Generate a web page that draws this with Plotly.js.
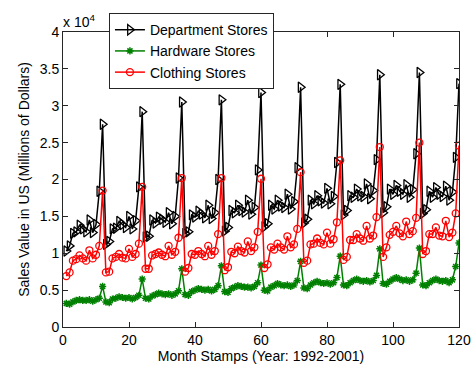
<!DOCTYPE html>
<html>
<head>
<meta charset="utf-8">
<script src="https://cdn.plot.ly/plotly-3.0.1.min.js"></script>
<style>html,body{margin:0;padding:0;background:#fff;}#chart{width:474px;height:367px;}</style>
</head>
<body>
<div id="chart"></div>
<script>
// Monthly sales, millions of dollars, Jan 1992 .. Dec 2001
const deptStores = [
  10300, 11000, 12700, 12900, 13800, 13300, 12900, 14500, 12800, 13900, 18400, 27500,
  11200, 11600, 13300, 13400, 14300, 13900, 13500, 15000, 13300, 14400, 19000, 29200,
  12200, 12300, 14500, 14100, 14900, 14600, 14200, 15500, 14000, 15000, 20200, 30500,
  12700, 12900, 15200, 14900, 15700, 15300, 14800, 16500, 14700, 15500, 20000, 30800,
  13000, 13500, 15800, 15500, 16500, 15800, 15600, 17200, 15300, 16200, 21300, 31800,
  13600, 14000, 16500, 16000, 17200, 16400, 16200, 18000, 16000, 17000, 21600, 32500,
  14100, 14600, 17200, 16700, 17800, 17100, 16800, 18800, 16700, 17700, 22300, 32900,
  15200, 15800, 17800, 17600, 18700, 17800, 17700, 19400, 17400, 18500, 22700, 34200,
  15500, 16300, 18700, 18000, 19200, 18400, 18000, 19300, 17600, 18600, 23500, 34500,
  15400, 15900, 18400, 17600, 18900, 18000, 17700, 19100, 17200, 18300, 23000, 33000
];
const hardwareStores = [
  3200, 3100, 3400, 3600, 3700, 3600, 3600, 3700, 3500, 3700, 3900, 5500,
  3400, 3300, 3800, 3900, 4100, 4000, 3900, 4000, 3800, 4000, 4300, 6500,
  3900, 3800, 4200, 4400, 4600, 4500, 4400, 4500, 4300, 4500, 4900, 7900,
  4400, 4300, 4800, 5000, 5200, 5100, 5000, 5100, 4900, 5100, 5600, 8300,
  4800, 4700, 5200, 5400, 5600, 5500, 5400, 5400, 5300, 5500, 6000, 8400,
  5000, 4900, 5400, 5600, 5900, 5700, 5600, 5700, 5500, 5700, 6300, 8900,
  5300, 5200, 5700, 6000, 6200, 6000, 5900, 6000, 5800, 6000, 6700, 9600,
  5700, 5600, 6000, 6300, 6500, 6300, 6200, 6300, 6100, 6300, 7000, 10600,
  5900, 5800, 6200, 6500, 6700, 6500, 6300, 6400, 6200, 6400, 7300, 10700,
  5700, 5600, 6000, 6300, 6500, 6300, 6200, 6300, 6000, 6400, 8200, 11400
];
const clothingStores = [
  6900, 7400, 9000, 9200, 9700, 9300, 9000, 10400, 9300, 9800, 11000, 18500,
  7400, 7500, 9300, 9500, 9900, 9400, 9300, 10600, 9500, 9900, 11300, 19000,
  7900, 7900, 9700, 9900, 10100, 9800, 9600, 11000, 9800, 10200, 12100, 20200,
  7500, 8000, 9900, 9800, 10300, 9900, 9600, 11000, 9800, 10300, 12600, 20200,
  7700, 8100, 10200, 10000, 10900, 10300, 10100, 11600, 10300, 10800, 12900, 20100,
  8000, 8500, 10800, 10500, 11300, 10800, 10500, 12300, 10800, 11200, 13300, 21000,
  8700, 9000, 11200, 11300, 12000, 11400, 11200, 12800, 11300, 11900, 14200, 22600,
  9100, 9500, 11800, 11800, 12600, 12000, 11700, 13700, 12000, 12400, 14900, 24400,
  9500, 10800, 12500, 12900, 13700, 12700, 12300, 14300, 12600, 13000, 14800, 25000,
  9900, 10300, 12600, 12600, 13500, 12400, 12300, 14400, 12200, 12800, 15400, 24600
];
const monthStamps = deptStores.map((_, i) => i + 1);
const seriesNames = ['Department Stores', 'Hardware Stores', 'Clothing Stores'];
const yTickVals = [0, 5000, 10000, 15000, 20000, 25000, 30000, 35000, 40000];
const yTickText = ['0', '0.5', '1', '1.5', '2', '2.5', '3', '3.5', '4'];
const xTickVals = [0, 20, 40, 60, 80, 100, 120];

const font = {family: 'Liberation Sans, Arial, sans-serif', size: 14, color: '#000'};

const traces = [
  {x: monthStamps, y: deptStores, name: seriesNames[0], type: 'scatter', mode: 'lines+markers',
   line: {color: '#000000', width: 1.5},
   marker: {symbol: 'triangle-right-open', size: 9, color: '#000000', line: {width: 1.3, color: '#000000'}}},
  {x: monthStamps, y: hardwareStores, name: seriesNames[1], type: 'scatter', mode: 'lines+markers',
   line: {color: '#008000', width: 1.5},
   marker: {symbol: 'asterisk-open', size: 6, color: '#008000', line: {width: 1.5, color: '#008000'}}},
  {x: monthStamps, y: clothingStores, name: seriesNames[2], type: 'scatter', mode: 'lines+markers',
   line: {color: '#ff0000', width: 1.5},
   marker: {symbol: 'circle-open', size: 7, color: '#ff0000', line: {width: 1.3, color: '#ff0000'}}}
];

const axisCommon = {
  showgrid: false, zeroline: false, showline: true, linecolor: '#262626', linewidth: 1,
  mirror: 'ticks', ticks: 'inside', ticklen: 5, tickcolor: '#262626', tickfont: font
};

const layout = {
  width: 474, height: 367,
  margin: {l: 63, r: 15, t: 32, b: 40},
  paper_bgcolor: '#ffffff', plot_bgcolor: '#ffffff',
  font: font,
  showlegend: true,
  legend: {x: 0.116, y: 1.064, xanchor: 'left', yanchor: 'top', bgcolor: '#ffffff',
           bordercolor: '#262626', borderwidth: 1, font: font, tracegroupgap: 0},
  xaxis: Object.assign({}, axisCommon, {range: [0, 120], tickvals: xTickVals,
    title: {text: 'Month Stamps (Year: 1992-2001)', font: font, standoff: 2}}),
  yaxis: Object.assign({}, axisCommon, {range: [0, 40000], tickvals: yTickVals, ticktext: yTickText,
    title: {text: 'Sales Value in US (Millions of Dollars)', font: font, standoff: 6}}),
  annotations: [{xref: 'paper', yref: 'paper', x: 0, y: 1, xanchor: 'left', yanchor: 'bottom',
    text: 'x 10<sup>4</sup>', showarrow: false, font: font, xshift: -2, yshift: 0}]
};

Plotly.newPlot('chart', traces, layout, {displayModeBar: false, staticPlot: true});
</script>
</body>
</html>
